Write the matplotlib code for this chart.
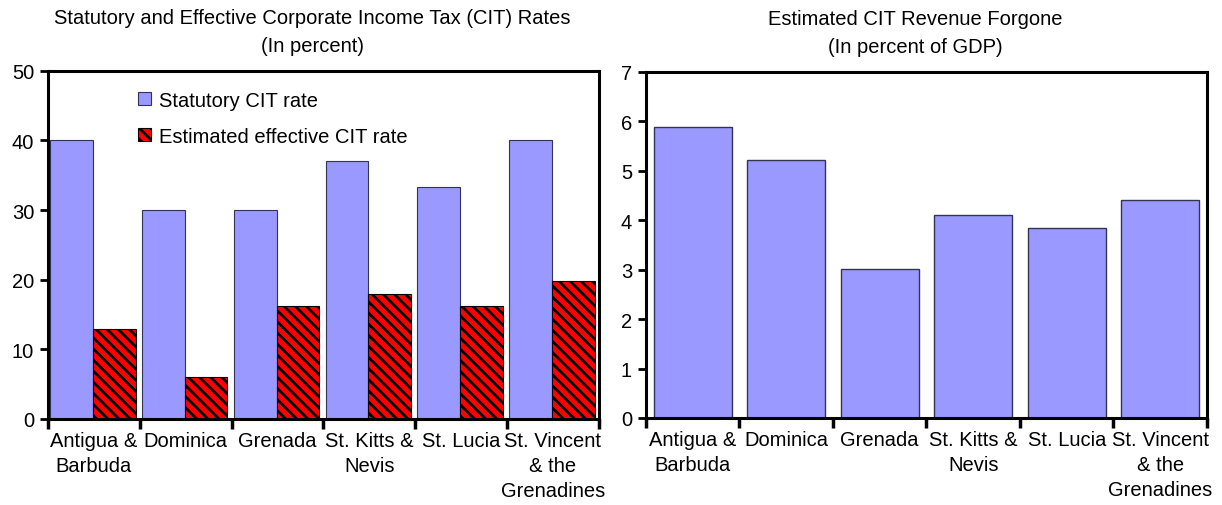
import matplotlib
import matplotlib.pyplot as plt
import numpy as np

matplotlib.use("Agg")
plt.rcParams["font.family"] = ["Liberation Sans", "DejaVu Sans"]
plt.rcParams["hatch.linewidth"] = 2.0

countries = [
    "Antigua &\nBarbuda",
    "Dominica",
    "Grenada",
    "St. Kitts &\nNevis",
    "St. Lucia",
    "St. Vincent\n& the\nGrenadines",
]
statutory_rate = [40, 30, 30, 37, 33.3, 40]
effective_rate = [12.9, 6.0, 16.2, 18.0, 16.2, 19.8]
revenue_forgone = [5.88, 5.21, 3.02, 4.1, 3.85, 4.41]

BLUE = "#9999ff"
RED = "#ff0000"


def style_axes(ax, ymax, step):
    x = np.arange(len(countries))
    ax.set_xlim(-0.5, len(countries) - 0.5)
    ax.set_ylim(0, ymax)
    ax.set_yticks(np.arange(0, ymax + step / 2, step))
    ax.set_xticks(np.arange(len(countries) + 1) - 0.5)
    ax.set_xticklabels([])
    ax.set_xticks(x, minor=True)
    ax.set_xticklabels(countries, minor=True, fontsize=14.5, linespacing=1.4)
    ax.tick_params(axis="x", which="minor", length=0, pad=9)
    ax.tick_params(axis="x", which="major", length=7, width=2.5, direction="out")
    ax.tick_params(axis="y", length=6, width=2, direction="out", labelsize=14.5, pad=4)
    for s in ax.spines.values():
        s.set_linewidth(2.2)


fig = plt.figure(figsize=(12.22, 5.06), dpi=100)

# left panel
ax1 = fig.add_axes([0.0393, 0.170, 0.4507, 0.688])
x = np.arange(len(countries))
w = 0.465
ax1.bar(x - w / 2 - 0.01, statutory_rate, w, color=BLUE, edgecolor="#333355",
        linewidth=0.8, label="Statutory CIT rate")
ax1.bar(x + w / 2 - 0.01, effective_rate, w, color=RED, edgecolor="black",
        hatch="\\\\\\", linewidth=0.8, label="Estimated effective CIT rate")
style_axes(ax1, 50, 10)
ax1.set_title("Statutory and Effective Corporate Income Tax (CIT) Rates\n(In percent)",
              fontsize=14.5, pad=14, linespacing=1.6, x=0.48)
ax1.legend(loc="upper left", bbox_to_anchor=(0.13, 0.995), frameon=False,
           fontsize=14.5, handlelength=0.65, handleheight=0.65, handletextpad=0.4,
           labelspacing=0.85)

# right panel
ax2 = fig.add_axes([0.5286, 0.172, 0.4591, 0.684])
ax2.bar(x, revenue_forgone, 0.83, color=BLUE, edgecolor="#333355", linewidth=1.0)
style_axes(ax2, 7, 1)
ax2.set_title("Estimated CIT Revenue Forgone\n(In percent of GDP)",
              fontsize=14.5, pad=14, linespacing=1.6, x=0.48)

fig.savefig("out.png", dpi=100)
